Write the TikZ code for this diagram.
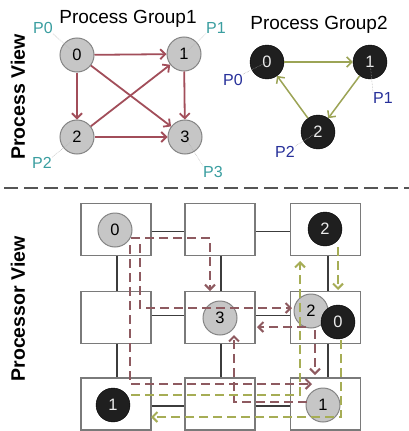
\documentclass[tikz,border=0pt]{standalone}
\usepackage{fontspec}
\setmainfont{Liberation Sans}
\usetikzlibrary{arrows.meta}
\definecolor{cgray}{HTML}{C6C6C6}
\definecolor{cborder}{HTML}{858585}
\definecolor{boxgray}{HTML}{7A7A7A}
\definecolor{linkgray}{HTML}{3C3C3C}
\definecolor{arrred}{HTML}{A24E5A}
\definecolor{arrgreen}{HTML}{9CA456}
\definecolor{dashred}{HTML}{8E5A60}
\definecolor{dashgreen}{HTML}{A6AD55}
\definecolor{tealc}{HTML}{3A9EA0}
\definecolor{bluec}{HTML}{27309A}
\definecolor{sepgray}{HTML}{555555}
\tikzset{
  pcirc/.style={circle, draw=cborder, line width=1pt, fill=cgray, minimum size=34pt, inner sep=0pt, font=\fontsize{16.5}{16.5}\selectfont},
  bcirc/.style={circle, draw=black, fill=black!88, text=gray!15, minimum size=34pt, inner sep=0pt, font=\fontsize{16.5}{16.5}\selectfont},
  pbox/.style={draw=boxgray, line width=1.2pt, fill=white, minimum width=70pt, minimum height=52pt, inner sep=0pt},
  link/.style={draw=linkgray, line width=1.8pt},
  tip/.style={-{Straight Barb[length=5pt,width=10pt]}},
  rarrow/.style={draw=arrred, line width=1.8pt, tip},
  garrow/.style={draw=arrgreen, line width=1.5pt, tip},
  rdash/.style={draw=dashred, line width=2pt, dash pattern=on 9pt off 5pt, tip},
  gdash/.style={draw=dashgreen, line width=2pt, dash pattern=on 9pt off 5pt, tip},
  leader/.style={draw=gray!65, line width=0.5pt, densely dotted},
  plabel/.style={inner sep=0pt, font=\fontsize{16}{16}\selectfont},
  title/.style={inner sep=0pt, font=\fontsize{19}{19}\selectfont},
  side/.style={inner sep=0pt, rotate=90, font=\fontsize{19.5}{19.5}\selectfont\bfseries},
  sepline/.style={draw=sepgray, line width=2.6pt, dash pattern=on 14pt off 6pt}
}
\begin{document}
\begin{tikzpicture}[x=1pt,y=-1pt]
\useasboundingbox (0,0) rectangle (409,431);
\fill[white] (0,0) rectangle (409,431);

% side labels
\node[side] (pv) at (18,97) {Process View};
\node[side] (prv) at (18,309) {Processor View};

% ---------- Process Group 1 ----------
\node[title] (t1) at (128,19) {Process Group1};
\node[pcirc] (g0) at (77,55) {0};
\node[pcirc] (g1) at (184,54) {1};
\node[pcirc] (g2) at (77,137) {2};
\node[pcirc] (g3) at (185,137) {3};
\draw[rarrow] (g0) -- (g1);
\draw[rarrow] (g0) -- (g2);
\draw[rarrow] (g1) -- (g3);
\draw[rarrow] (g2) -- (g3);
\draw[rarrow] (g0) -- (g3);
\draw[rarrow] (g2) -- (g1);
\node[plabel, text=tealc] (lp0) at (43,28) {P0};
\node[plabel, text=tealc] (lp1) at (216,28) {P1};
\node[plabel, text=tealc] (lp2) at (42,163) {P2};
\node[plabel, text=tealc] (lp3) at (213,172) {P3};
\draw[leader] (lp0.south east) -- (g0.center);
\draw[leader] (lp1.south west) -- (g1.center);
\draw[leader] (lp2.north east) -- (g2.center);
\draw[leader] (lp3.north west) -- (g3.center);

% ---------- Process Group 2 ----------
\node[title] (t2) at (319,25) {Process Group2};
\node[bcirc] (h0) at (267,62) {0};
\node[bcirc] (h1) at (370,62) {1};
\node[bcirc] (h2) at (318,132) {2};
\draw[garrow] (h0) -- (h1);
\draw[garrow] (h1) -- (h2);
\draw[garrow] (h2) -- (h0);
\node[plabel, text=bluec] (lq0) at (233,80) {P0};
\node[plabel, text=bluec] (lq1) at (383,98) {P1};
\node[plabel, text=bluec] (lq2) at (285,152) {P2};
\draw[leader] (lq0.north east) -- (h0.center);
\draw[leader] (lq1.north west) -- (h1.center);
\draw[leader] (lq2.north east) -- (h2.center);

% separator
\coordinate (sepL) at (4,188);
\coordinate (sepR) at (409,188);
\draw[sepline] (sepL) -- (sepR);

% ---------- Processor View ----------
\node[pbox] (b11) at (116,229.5) {};
\node[pbox] (b12) at (220,229.5) {};
\node[pbox] (b13) at (325.5,229.5) {};
\node[pbox] (b21) at (116,317.5) {};
\node[pbox] (b22) at (220,317.5) {};
\node[pbox] (b23) at (325.5,317.5) {};
\node[pbox] (b31) at (116,404) {};
\node[pbox] (b32) at (220,404) {};
\node[pbox] (b33) at (325.5,404) {};

\draw[link] ([yshift=-2pt]b11.east) -- ([yshift=-2pt]b12.west);
\draw[link] ([yshift=-2pt]b12.east) -- ([yshift=-2pt]b13.west);
\draw[link] ([yshift=2pt]b21.east) -- ([yshift=2pt]b22.west);
\draw[link] ([yshift=2pt]b22.east) -- ([yshift=2pt]b23.west);
\draw[link] ([yshift=-2pt]b31.east) -- ([yshift=-2pt]b32.west);
\draw[link] ([yshift=-2pt]b32.east) -- ([yshift=-2pt]b33.west);
\draw[link] ([xshift=1pt]b11.south) -- ([xshift=1pt]b21.north);
\draw[link] ([xshift=1pt]b21.south) -- ([xshift=1pt]b31.north);
\draw[link] ([xshift=1pt]b12.south) -- ([xshift=1pt]b22.north);
\draw[link] ([xshift=1pt]b22.south) -- ([xshift=1pt]b32.north);
\draw[link] ([xshift=2.5pt]b13.south) -- ([xshift=2.5pt]b23.north);
\draw[link] ([xshift=2.5pt]b23.south) -- ([xshift=2.5pt]b33.north);

% processes on processors
\node[pcirc] (m0) at (115,230) {0};
\node[bcirc] (n2) at (325,229) {2};
\node[pcirc] (m3) at (220,318) {3};
\node[pcirc] (m2) at (311,311) {2};
\node[bcirc] (n0) at (338,322) {0};
\node[bcirc] (n1) at (113,405) {1};
\node[pcirc] (m1) at (323,405) {1};

% group 1 traffic (red dashed)
\coordinate (r01s) at (130,245);
\coordinate (r01e) at (312,384);
\draw[rdash] (r01s) |- (r01e);
\coordinate (r03s) at (131,238);
\coordinate (r03e) at (210,291);
\draw[rdash] (r03s) -| (r03e);
\coordinate (r02s) at (140,244);
\coordinate (r02e) at (292,308);
\draw[rdash] (r02s) |- (r02e);
\coordinate (r13s) at (307,402);
\coordinate (r13e) at (234,335);
\draw[rdash] (r13s) -| (r13e);
\coordinate (r21s) at (315,330);
\coordinate (r21e) at (315,375);
\draw[rdash] (r21s) -- (r21e);
\coordinate (r23s) at (306,327);
\coordinate (r23e) at (257,327);
\draw[rdash] (r23s) -- (r23e);

% group 2 traffic (olive dashed)
\coordinate (q20s) at (338,247);
\coordinate (q20e) at (338,290);
\draw[gdash] (q20s) -- (q20e);
\coordinate (q12s) at (131,395);
\coordinate (q12e) at (300,261);
\draw[gdash] (q12s) -| (q12e);
\coordinate (q01s) at (341,340);
\coordinate (q01e) at (151,417);
\draw[gdash] (q01s) |- (q01e);
\end{tikzpicture}
\end{document}
